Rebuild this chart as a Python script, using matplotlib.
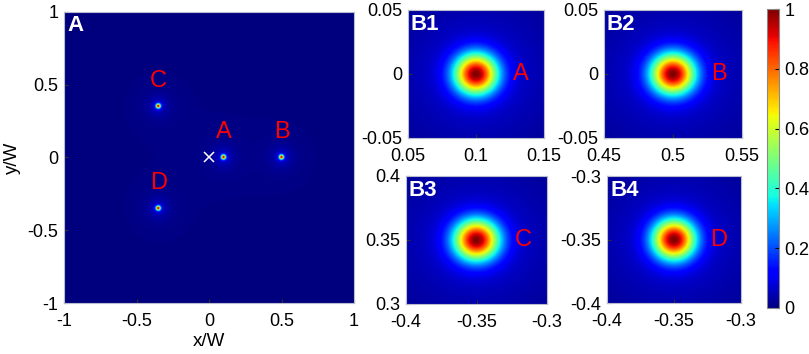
import numpy as np
import matplotlib
matplotlib.use("Agg")
import matplotlib.pyplot as plt

plt.rcParams['font.family'] = ['Liberation Sans', 'DejaVu Sans']

# ---- data ----
spot_names = ['A', 'B', 'C', 'D']
spot_x = [0.1, 0.5, -0.35, -0.35]
spot_y = [0.0, 0.0, 0.35, -0.35]
core_amp = 0.91        # bright core of each focal spot
core_sigma = 0.011     # (x/W units)
tail_amp = 0.09        # faint halo around each spot
tail_width = 0.045
source_xy = (0.0, 0.0)
zoom_names = ['B1', 'B2', 'B3', 'B4']
zoom_xlim = [(0.05, 0.15), (0.45, 0.55), (-0.4, -0.3), (-0.4, -0.3)]
zoom_ylim = [(-0.05, 0.05), (-0.05, 0.05), (0.3, 0.4), (-0.4, -0.3)]
zoom_xticks = [[0.05, 0.1, 0.15], [0.45, 0.5, 0.55], [-0.4, -0.35, -0.3], [-0.4, -0.35, -0.3]]
zoom_yticks = [[-0.05, 0, 0.05], [-0.05, 0, 0.05], [0.3, 0.35, 0.4], [-0.4, -0.35, -0.3]]
main_ticks = [-1, -0.5, 0, 0.5, 1]
cbar_ticks = [0, 0.2, 0.4, 0.6, 0.8, 1]


def field(xlim, ylim, n):
    x = np.linspace(xlim[0], xlim[1], n)
    y = np.linspace(ylim[0], ylim[1], n)
    X, Y = np.meshgrid(x, y)
    Z = np.zeros_like(X)
    for sx, sy in zip(spot_x, spot_y):
        r2 = (X - sx) ** 2 + (Y - sy) ** 2
        Z += core_amp * np.exp(-r2 / (2 * core_sigma ** 2))
        Z += tail_amp / (1.0 + r2 / tail_width ** 2)
    return np.clip(Z, 0, 1)


def fmt(v):
    return '0' if v == 0 else ('%g' % v)


fig = plt.figure(figsize=(8.09, 3.54), dpi=100)
W, H = 809.0, 354.0


def pax(l, t, r, b):
    return fig.add_axes([l / W, (H - b) / H, (r - l) / W, (b - t) / H])


tick_fs = 13
label_fs = 17
panel_fs = 16
spine_c = '#b8bccc'


def style(ax):
    ax.tick_params(labelsize=tick_fs, direction='in', length=3,
                   color='#303030')
    ax.tick_params(axis='x', pad=7)
    ax.tick_params(axis='y', pad=4)
    for s in ax.spines.values():
        s.set_color(spine_c)
        s.set_linewidth(0.8)


# ---- main panel ----
axA = pax(64, 12, 354, 303)
Z = field((-1, 1), (-1, 1), 1600)
im = axA.imshow(Z, extent=(-1, 1, -1, 1), origin='lower', cmap='jet',
                vmin=0, vmax=1, aspect='auto', interpolation='bilinear')
axA.plot([source_xy[0]], [source_xy[1]], marker='x', color='white',
         markersize=7, mew=1.1, linestyle='none')
for name, sx, sy in zip(spot_names, spot_x, spot_y):
    axA.text(sx, sy + 0.175, name, color='red', fontsize=label_fs,
             ha='center', va='center')
axA.text(3 / 290, 1 - 3 / 291, 'A', transform=axA.transAxes, color='white',
         fontsize=panel_fs, fontweight='bold', ha='left', va='top')
axA.set_xlim(-1, 1)
axA.set_ylim(-1, 1)
axA.set_xticks(main_ticks)
axA.set_yticks(main_ticks)
axA.set_xticklabels([fmt(v) for v in main_ticks])
axA.set_yticklabels([fmt(v) for v in main_ticks])
axA.set_xlabel('x/W', fontsize=13.5, labelpad=2)
axA.set_ylabel('y/W', fontsize=13.5, labelpad=5)
style(axA)

# ---- zoom panels ----
boxes = [(408, 10, 544, 138), (604, 10, 742, 138),
         (406, 176, 547, 304), (607, 176, 741, 303)]
for i, box in enumerate(boxes):
    ax = pax(*box)
    xl, yl = zoom_xlim[i], zoom_ylim[i]
    Zb = field(xl, yl, 400)
    ax.imshow(Zb, extent=(xl[0], xl[1], yl[0], yl[1]), origin='lower',
              cmap='jet', vmin=0, vmax=1, aspect='auto',
              interpolation='bilinear')
    ax.set_xlim(*xl)
    ax.set_ylim(*yl)
    ax.set_xticks(zoom_xticks[i])
    ax.set_yticks(zoom_yticks[i])
    ax.set_xticklabels([fmt(v) for v in zoom_xticks[i]])
    ax.set_yticklabels([fmt(v) for v in zoom_yticks[i]])
    ax.text(spot_x[i] + 0.033, spot_y[i], spot_names[i], color='red',
            fontsize=label_fs, ha='center', va='center')
    bw = box[2] - box[0]
    bh = box[3] - box[1]
    ax.text(3 / bw, 1 - 4 / bh, zoom_names[i], transform=ax.transAxes,
            color='white', fontsize=panel_fs, fontweight='bold',
            ha='left', va='top')
    style(ax)

# ---- colorbar ----
cax = pax(767, 9, 779, 308)
cb = fig.colorbar(im, cax=cax, ticks=cbar_ticks)
cb.ax.set_yticklabels([fmt(v) for v in cbar_ticks])
cb.ax.tick_params(labelsize=tick_fs, direction='in', length=3, pad=4)
cb.outline.set_edgecolor('#888888')
cb.outline.set_linewidth(0.8)

fig.savefig('out.png', dpi=100)
